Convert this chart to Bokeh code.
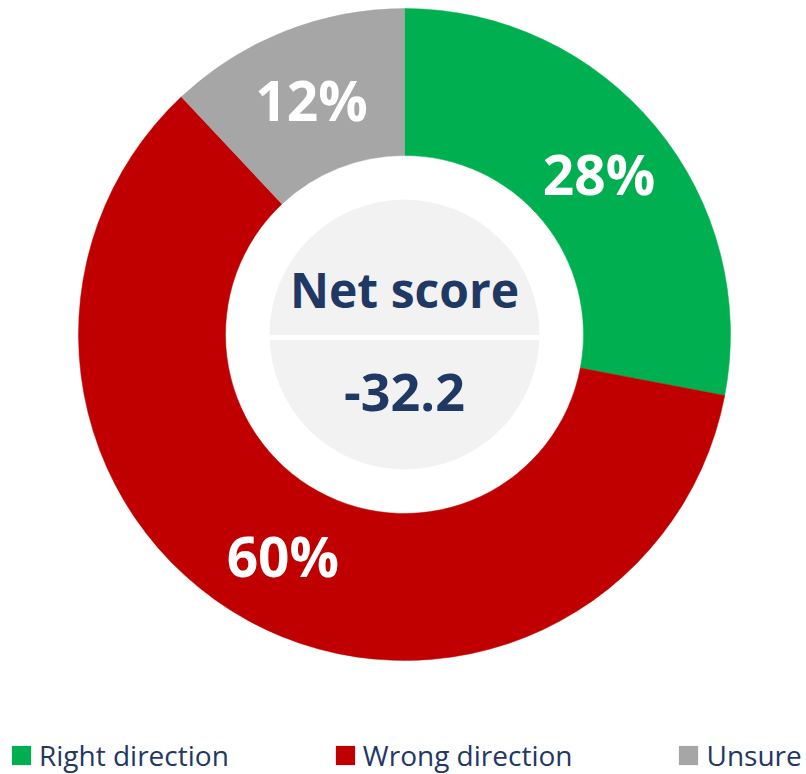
import math
from bokeh.plotting import figure
from bokeh.models import Range1d, Legend, LegendItem, ColumnDataSource
from bokeh.core.properties import value
from bokeh.embed import file_html
from bokeh.resources import INLINE

# ---- data ----
categories = ["Right direction", "Wrong direction", "Unsure"]
shares = [28, 60, 12]
colors = ["#00B050", "#C00000", "#A6A6A6"]
center_title = "Net score"
net_score = -32.2

W, H = 806, 774
NAVY = "#1F3864"
FONT = "Open Sans"

p = figure(width=W, height=H, output_backend="svg", toolbar_location=None,
           x_range=Range1d(0, W), y_range=Range1d(0, H), min_border=0,
           match_aspect=False)
p.axis.visible = False
p.grid.visible = False
p.outline_line_color = None
p.background_fill_color = "white"
p.border_fill_color = "white"

cx, cy = 404, H - 334
r_out, r_in, r_core = 326, 179, 135

# wedge angles: start at top, go clockwise
total = sum(shares)
starts, ends, lx, ly, labels = [], [], [], [], []
a = math.pi / 2
r_lab = (r_in + r_out) / 2
for s in shares:
    sweep = 2 * math.pi * s / total
    starts.append(a - sweep)
    ends.append(a)
    mid = a - sweep / 2
    lx.append(cx + r_lab * math.cos(mid))
    ly.append(cy + r_lab * math.sin(mid))
    labels.append(f"{s}%")
    a -= sweep

src = ColumnDataSource(dict(start=starts, end=ends, color=colors, cat=categories,
                            lx=lx, ly=ly, label=labels))

for i in range(len(categories)):
    p.annular_wedge(x=cx, y=cy, inner_radius=r_in, outer_radius=r_out,
                    start_angle=starts[i], end_angle=ends[i],
                    fill_color=colors[i], line_color=colors[i], line_width=0.5)

p.text(x="lx", y="ly", text="label", source=src, text_color="white",
       text_font=value(FONT), text_font_style="bold", text_font_size="55px",
       text_align="center", text_baseline="middle")

# center disc
p.circle(x=[cx], y=[cy], radius=r_core, fill_color="#F2F2F2", line_color=None)
p.segment(x0=[cx - r_core], y0=[cy - 3], x1=[cx + r_core], y1=[cy - 3],
          line_color="white", line_width=5)

p.text(x=[cx], y=[cy + 45], text=[center_title], text_color=NAVY,
       text_font=value(FONT), text_font_style="bold", text_font_size="48px",
       text_align="center", text_baseline="middle")
p.text(x=[cx], y=[cy - 58], text=[f"{net_score:.1f}"], text_color=NAVY,
       text_font=value(FONT), text_font_style="bold", text_font_size="52px",
       text_align="center", text_baseline="middle")

# legend
legend_renderers = []
for i, c in enumerate(categories):
    lr = p.rect(x=[-100], y=[-100], width=1, height=1, fill_color=colors[i], line_color=None)
    legend_renderers.append(lr)
legend = Legend(items=[LegendItem(label=c, renderers=[legend_renderers[i]])
                       for i, c in enumerate(categories)],
                orientation="horizontal", location=(9, 0),
                glyph_width=24, glyph_height=24, label_standoff=6, spacing=104,
                padding=0, margin=0, border_line_color=None,
                background_fill_alpha=0,
                label_text_font=FONT, label_text_font_size="28px",
                label_text_color=NAVY)
p.add_layout(legend, "center")

open("out.html", "w").write(file_html(p, INLINE))
